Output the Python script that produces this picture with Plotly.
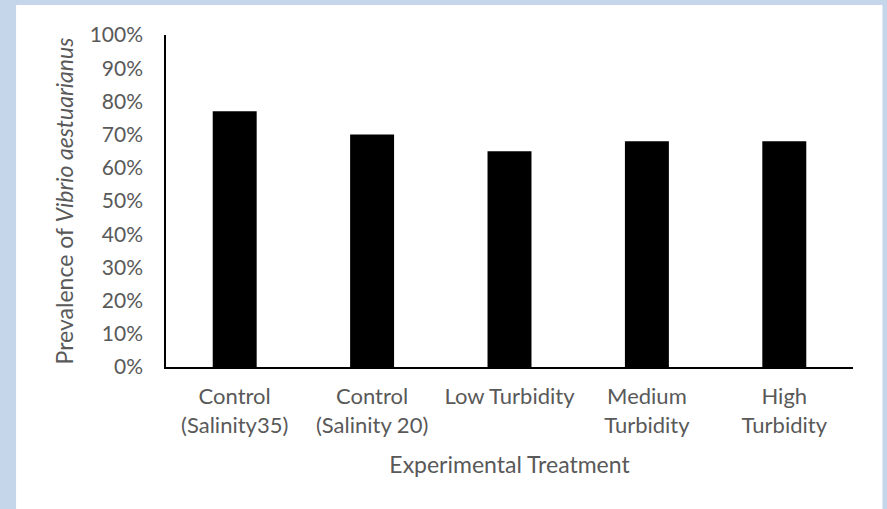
import plotly.graph_objects as go

categories = ["Control<br>(Salinity35)", "Control<br>(Salinity 20)", "Low Turbidity",
              "Medium<br>Turbidity", "High<br>Turbidity"]
prevalence = [0.77, 0.70, 0.65, 0.68, 0.68]
y_ticks = [0.0, 0.1, 0.2, 0.3, 0.4, 0.5, 0.6, 0.7, 0.8, 0.9, 1.0]

W, H = 887, 509
L, R, T, B = 166, 33.5, 35, 142
pw, ph = W - L - R, H - T - B

FONT = "Lato"
GRAY = "#595959"

fig = go.Figure()
fig.add_trace(go.Bar(x=categories, y=prevalence, marker=dict(color="black", line=dict(width=0)),
                     hoverinfo="x+y"))

# white panel on blue page
fig.add_shape(type="rect", xref="paper", yref="paper",
              x0=(16 - L) / pw, x1=(883 - L) / pw,
              y0=(H - B - H) / ph, y1=(H - B - 5) / ph,
              fillcolor="white", line=dict(width=0), layer="below")

fig.update_layout(
    width=W, height=H,
    margin=dict(l=L, r=R, t=T, b=B, pad=0),
    paper_bgcolor="#c5d5ea",
    plot_bgcolor="rgba(0,0,0,0)",
    bargap=0.68,
    showlegend=False,
    font=dict(family=FONT, color=GRAY, size=21),
    xaxis=dict(
        showline=True, linecolor="black", linewidth=1.5,
        showgrid=False, ticks="", ticklabelstandoff=9, tickfont=dict(size=22, color=GRAY),
        title=dict(text="Experimental Treatment", font=dict(size=23, color=GRAY), standoff=20),
    ),
    yaxis=dict(
        range=[0, 1], tickvals=y_ticks, tickformat=".0%",
        showline=True, linecolor="black", linewidth=1.5,
        showgrid=False, zeroline=False, ticks="", ticklabelstandoff=17,
        tickfont=dict(size=21, color=GRAY),
        title=dict(text="Prevalence of <i>Vibrio aestuarianus</i>", font=dict(size=23, color=GRAY), standoff=10),
    ),
)

fig.write_html("out.html", config={"displayModeBar": False},
               post_script="document.body.style.margin='0';document.body.style.background='#c5d5ea';")
